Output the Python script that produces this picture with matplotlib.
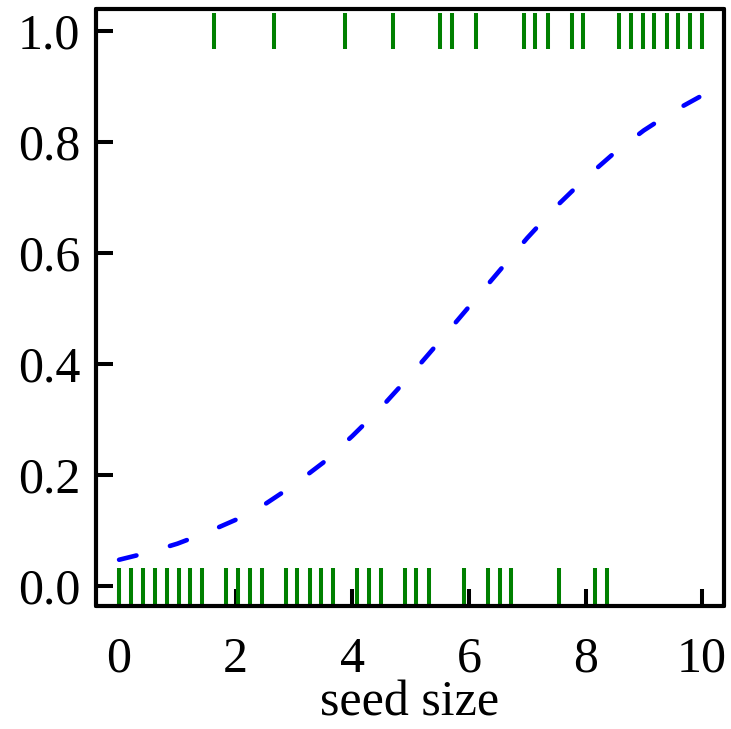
import numpy as np
import matplotlib
matplotlib.use("Agg")
import matplotlib.pyplot as plt

plt.rcParams['font.family'] = ['Liberation Serif', 'DejaVu Serif']
plt.rcParams['font.size'] = 36

# observed seed sizes and outcomes (0 = no, 1 = yes)
seed_size = [0.00, 0.20, 0.41, 0.61, 0.82, 1.02, 1.22, 1.43, 1.63, 1.84,
             2.04, 2.24, 2.45, 2.65, 2.86, 3.06, 3.27, 3.47, 3.67, 3.88,
             4.08, 4.29, 4.49, 4.69, 4.90, 5.10, 5.31, 5.51, 5.71, 5.92,
             6.12, 6.33, 6.53, 6.73, 6.94, 7.14, 7.35, 7.55, 7.76, 7.96,
             8.16, 8.37, 8.57, 8.78, 8.98, 9.18, 9.39, 9.59, 9.80, 10.00]
outcome = [0, 0, 0, 0, 0, 0, 0, 0, 1, 0,
           0, 0, 0, 1, 0, 0, 0, 0, 0, 1,
           0, 0, 0, 1, 0, 0, 0, 1, 1, 0,
           1, 0, 0, 0, 1, 1, 1, 0, 1, 1,
           0, 0, 1, 1, 1, 1, 1, 1, 1, 1]

# fitted probability curve
curve_x = [0.0, 0.5, 1.0, 1.5, 2.0, 2.5, 3.0, 3.5, 4.0, 4.5, 5.0,
           5.5, 6.0, 6.5, 7.0, 7.5, 8.0, 8.5, 9.0, 9.5, 10.0]
curve_p = [0.047, 0.060, 0.076, 0.096, 0.119, 0.147, 0.182, 0.222, 0.270, 0.322, 0.380,
           0.441, 0.503, 0.565, 0.627, 0.684, 0.735, 0.781, 0.821, 0.855, 0.884]

fig = plt.figure(figsize=(7.31, 7.29), dpi=100)
ax = fig.add_axes([0.131, 0.169, 0.859, 0.818])

ax.plot(seed_size, outcome, '|', color='green', markersize=26.5, markeredgewidth=2.9)
ax.plot(curve_x, curve_p, color='blue', lw=3.3,
        linestyle=(0, (3.9, 7.6)), dash_capstyle='round')

ax.set_xlim(-0.40, 10.37)
ax.set_ylim(-0.036, 1.039)
ax.set_xticks([0, 2, 4, 6, 8, 10])
ax.set_yticks([0.0, 0.2, 0.4, 0.6, 0.8, 1.0])
ax.set_yticklabels(['0.0', '0.2', '0.4', '0.6', '0.8', '1.0'])

ax.tick_params(direction='in', length=12, width=2.9, color='black', pad=11,
               top=False, right=False)
ax.tick_params(axis='x', pad=22)
for side in ['left', 'right', 'top', 'bottom']:
    ax.spines[side].set_linewidth(3.0)
    ax.spines[side].set_capstyle('round')
    ax.spines[side].set_joinstyle('round')

ax.set_xlabel('seed size', labelpad=-2)

fig.savefig('out.png', dpi=100)
